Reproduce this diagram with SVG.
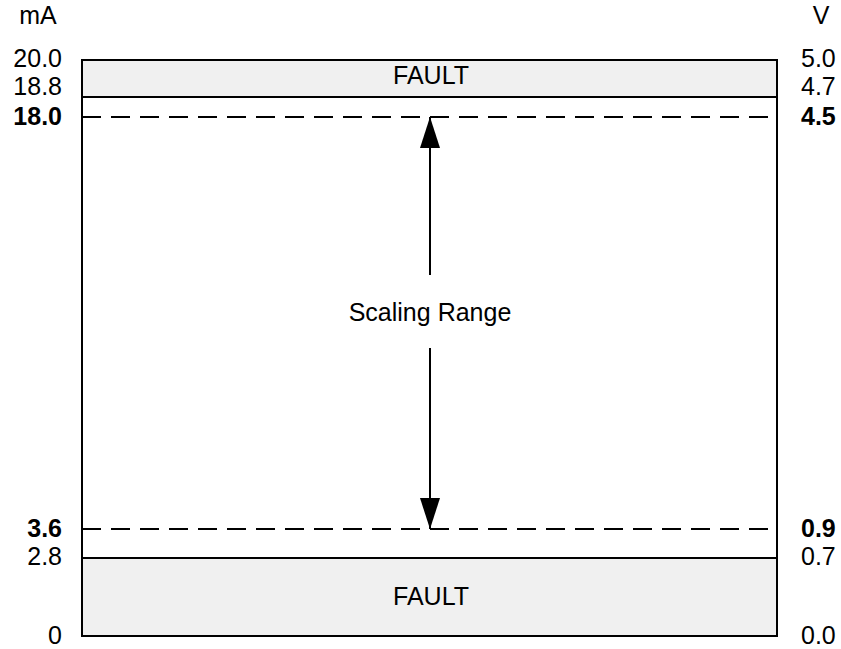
<svg xmlns="http://www.w3.org/2000/svg" width="841" height="649" viewBox="0 0 841 649">
  <style>
    text { font-family: "Liberation Sans", Arial, sans-serif; font-size: 25px; fill: #000; }
    .lbl-l { text-anchor: end; }
    .lbl-r { text-anchor: start; }
    .mid { text-anchor: middle; }
    .b { font-weight: bold; }
    .edge { fill: none; stroke: #000; stroke-width: 2; }
    .dash { fill: none; stroke: #000; stroke-width: 2; stroke-dasharray: 19 10; }
    .fault { fill: #f0f0f0; stroke: none; }
  </style>
  <defs>
    <marker id="head" viewBox="0 0 31 20" refX="31" refY="10" markerWidth="31" markerHeight="20" markerUnits="userSpaceOnUse" orient="auto">
      <path d="M0,0 L31,10 L0,20 Z" fill="#000"/>
    </marker>
  </defs>

  <!-- fault bands -->
  <g id="fault-high">
    <rect class="fault" x="82" y="60" width="695" height="37"/>
    <text class="mid" x="431" y="84">FAULT</text>
  </g>
  <g id="fault-low">
    <rect class="fault" x="82" y="558" width="695" height="78"/>
    <text class="mid" x="431" y="605">FAULT</text>
  </g>

  <!-- outer frame and band boundaries -->
  <g id="frame">
    <rect class="edge" x="82" y="60" width="695" height="576"/>
    <line class="edge" x1="82" y1="97" x2="777" y2="97"/>
    <line class="edge" x1="82" y1="558" x2="777" y2="558"/>
    <line class="dash" x1="82" y1="117" x2="777" y2="117"/>
    <line class="dash" x1="82" y1="529" x2="777" y2="529"/>
  </g>

  <!-- scaling range arrows -->
  <g id="connectors">
    <line class="edge" x1="430" y1="275" x2="430" y2="117" marker-end="url(#head)"/>
    <line class="edge" x1="430" y1="348" x2="430" y2="529" marker-end="url(#head)"/>
  </g>
  <g id="scaling-range">
    <text class="mid" x="430" y="321">Scaling Range</text>
  </g>

  <!-- current scale (mA) -->
  <g id="scale-ma">
    <text class="mid" x="38" y="24">mA</text>
    <text class="lbl-l" x="62" y="67">20.0</text>
    <text class="lbl-l" x="62" y="95">18.8</text>
    <text class="lbl-l b" x="62" y="125">18.0</text>
    <text class="lbl-l b" x="62" y="537">3.6</text>
    <text class="lbl-l" x="62" y="565">2.8</text>
    <text class="lbl-l" x="62" y="644">0</text>
  </g>

  <!-- voltage scale (V) -->
  <g id="scale-v">
    <text class="mid" x="821" y="24">V</text>
    <text class="lbl-r" x="801" y="67">5.0</text>
    <text class="lbl-r" x="801" y="95">4.7</text>
    <text class="lbl-r b" x="801" y="125">4.5</text>
    <text class="lbl-r b" x="801" y="537">0.9</text>
    <text class="lbl-r" x="801" y="565">0.7</text>
    <text class="lbl-r" x="801" y="644">0.0</text>
  </g>
</svg>
